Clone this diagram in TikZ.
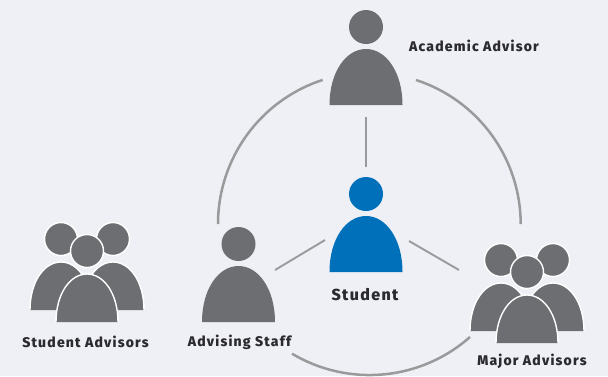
\documentclass[tikz,border=0pt]{standalone}
\usepackage{fontspec}
\setmainfont[LetterSpace=8.5]{Fira Sans Medium}
\definecolor{pagebg}{HTML}{EFF0F5}
\definecolor{figgray}{HTML}{6D6E71}
\definecolor{figblue}{HTML}{0070BB}
\definecolor{linkgray}{HTML}{999A9C}
\definecolor{labeltext}{HTML}{2B2A2E}
\tikzset{
  link/.style={linkgray,line width=1.9pt},
  ring/.style={linkgray,line width=2.5pt},
  lbl/.style={labeltext,font=\bfseries\fontsize{14}{16}\selectfont,inner sep=0pt},
  person/.pic={
    \fill[pic actions] (0,-78) circle[radius=17];
    \fill[pic actions] (-36.5,0) .. controls (-36.5,-33) and (-20,-56) .. (0,-56)
      .. controls (20,-56) and (36.5,-33) .. (36.5,0) -- cycle;
  },
  member/.pic={
    \path[fill=figgray,draw=white,line width=1.4pt] (#1,-71) circle[radius=16.5];
    \path[fill=figgray,draw=white,line width=1.4pt] (#1-31,0) .. controls (#1-31,-28) and (#1-17,-48) .. (#1,-48)
      .. controls (#1+17,-48) and (#1+31,-28) .. (#1+31,0);
  },
  group/.pic={
    \pic at (-26,-12) {member=0};
    \pic at (26,-12) {member=0};
    \pic at (0,0) {member=0};
  }
}
\begin{document}
\begin{tikzpicture}[x=1pt,y=-1pt]
  \useasboundingbox[fill=pagebg] (0,0) rectangle (608,376);

  \coordinate (ringA) at (218,224);
  \coordinate (ringB) at (323,80);
  \coordinate (ringC) at (416,80);
  \coordinate (ringD) at (521,224);
  \coordinate (ringE) at (470,337);
  \coordinate (ringF) at (292,355);
  \coordinate (linkA) at (366,117);
  \coordinate (linkB) at (366,167);
  \coordinate (linkC) at (275,270);
  \coordinate (linkD) at (325,240);
  \coordinate (linkE) at (409,241);
  \coordinate (linkF) at (459,270);

  \pic[figgray] at (366,105) {person};
  \pic[figblue] at (366,272) {person};
  \pic[figgray] at (238.5,322) {person};
  \pic at (87,322) {group};
  \pic at (527,343) {group};

  \node[lbl,anchor=west] (academic) at (409,46) {Academic Advisor};
  \node[lbl,font=\bfseries\fontsize{16}{18}\selectfont] (student) at (365,295) {Student};
  \node[lbl] (studentadv) at (85.5,342) {Student Advisors};
  \node[lbl] (staff) at (239.5,342) {Advising Staff};
  \node[lbl] (major) at (532,361) {Major Advisors};

  \draw[ring] (ringA) arc[start angle=180,end angle=252,radius=151.5];
  \draw[ring] (ringC) arc[start angle=288,end angle=360,radius=151.5];
  \draw[ring] (ringE) arc[start angle=48.5,end angle=120.8,radius=151.5];
  \draw[link] (linkA) -- (linkB);
  \draw[link] (linkC) -- (linkD);
  \draw[link] (linkE) -- (linkF);
\end{tikzpicture}
\end{document}
